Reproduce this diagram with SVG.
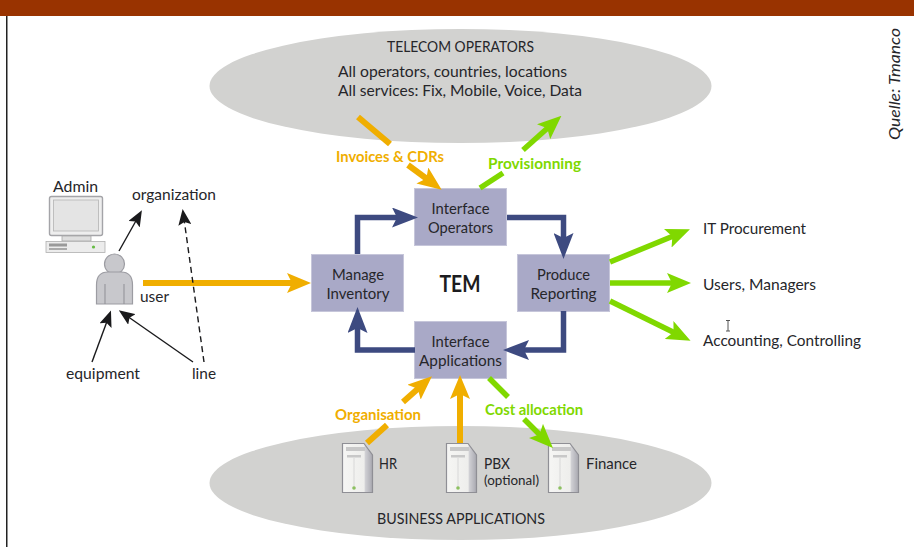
<svg xmlns="http://www.w3.org/2000/svg" xmlns:xlink="http://www.w3.org/1999/xlink" width="914" height="547" viewBox="0 0 914 547">
<style>
text{font-family:"Lato","Open Sans","Liberation Sans",sans-serif;font-size:15px;fill:#26262a}
.c{text-anchor:middle}
.o{fill:#f0ae00;font-weight:700}
.g{fill:#80d800;font-weight:700}
.box{fill:#a9a9c7;stroke:#c6c6da;stroke-width:1}
.ell{fill:#d2d2d0}
.or{stroke:#f0ae00;stroke-width:6;fill:none}
.gr{stroke:#80d800;stroke-width:5.5;fill:none}
.bl{stroke:#3d4a80;stroke-width:5.5;fill:none}
.bk{stroke:#1a1a1c;stroke-width:1.4;fill:none}
</style>
<defs>
<marker id="ho" viewBox="0 0 24 20" refX="10" refY="10" markerWidth="24" markerHeight="20" markerUnits="userSpaceOnUse" orient="auto"><path d="M0,0L24,10L0,20L5,10z" fill="#f0ae00"/></marker>
<marker id="hg" viewBox="0 0 24 20" refX="10" refY="10" markerWidth="24" markerHeight="20" markerUnits="userSpaceOnUse" orient="auto"><path d="M0,0L24,10L0,20L5,10z" fill="#80d800"/></marker>
<marker id="hb" viewBox="0 0 26 20" refX="10" refY="10" markerWidth="26" markerHeight="20" markerUnits="userSpaceOnUse" orient="auto"><path d="M0,0L26,10L0,20L5,10z" fill="#3d4a80"/></marker>
<marker id="hk" viewBox="0 0 16 13" refX="6" refY="6.5" markerWidth="16" markerHeight="13" markerUnits="userSpaceOnUse" orient="auto"><path d="M0,0L16,6.5L0,13L3,6.5z" fill="#1a1a1c"/></marker>
<linearGradient id="sv" x1="0" x2="1" y1="0" y2="0"><stop offset="0" stop-color="#f6f6f4"/><stop offset="0.72" stop-color="#eeeeec"/><stop offset="0.76" stop-color="#d0d0d4"/><stop offset="1" stop-color="#a8a8b0"/></linearGradient>
<g id="server">
<path d="M0.5,0.5H22L30.5,12V49.5H0.5z" fill="url(#sv)" stroke="#8f8f95" stroke-width="1.2"/>
<rect x="4" y="4" width="19" height="4" fill="#c8c8c8"/>
<rect x="5" y="12" width="14" height="2.500" fill="#c8c8c8"/>
<path d="M12,15V44" stroke="#d8d8d8" fill="none"/>
<circle cx="12" cy="45" r="1.800" fill="#8cc060"/>
</g>
</defs>
<rect id="header" x="0" y="0" width="914" height="16" fill="#993300"/>
<rect x="6" y="16" width="1.500" height="531" fill="#222"/>
<g id="telecom-operators">
<ellipse class="ell" cx="460.500" cy="86" rx="251" ry="57"/>
<text class="c" x="460.500" y="52" textLength="147" lengthAdjust="spacingAndGlyphs">TELECOM OPERATORS</text>
<text x="338" y="77" textLength="229" lengthAdjust="spacingAndGlyphs">All operators, countries, locations</text>
<text x="338" y="96" textLength="244" lengthAdjust="spacingAndGlyphs">All services: Fix, Mobile, Voice, Data</text>
</g>
<g id="business-applications">
<ellipse class="ell" cx="460.500" cy="483" rx="251" ry="57"/>
<text class="c" x="461" y="524" textLength="168" lengthAdjust="spacingAndGlyphs">BUSINESS APPLICATIONS</text>
</g>
<g id="hr"><use xlink:href="#server" x="342" y="443"/><text x="379" y="469" textLength="18" lengthAdjust="spacingAndGlyphs">HR</text></g>
<g id="pbx"><use xlink:href="#server" x="446" y="443"/><text x="484" y="469" textLength="26" lengthAdjust="spacingAndGlyphs">PBX</text><text x="484" y="485" style="font-size:13px" textLength="55" lengthAdjust="spacingAndGlyphs">(optional)</text></g>
<g id="finance"><use xlink:href="#server" x="548" y="443"/><text x="586" y="469" textLength="51" lengthAdjust="spacingAndGlyphs">Finance</text></g>
<g id="admin">
<text x="53" y="192" textLength="45" lengthAdjust="spacingAndGlyphs">Admin</text>
<rect x="49.500" y="196.500" width="53" height="39" rx="2" fill="#eeeeee" stroke="#a4a4a8" stroke-width="1.400"/>
<rect x="53.500" y="200" width="45" height="31" fill="#e4e4e4" stroke="#b4b4b4" stroke-width="0.800"/>
<rect x="62" y="236" width="29" height="5" fill="#dedede" stroke="#a8a8a8" stroke-width="0.800"/>
<rect x="46" y="241.500" width="59" height="11" fill="#ececec" stroke="#b0b0b0" stroke-width="0.800"/>
<rect x="49" y="243.500" width="18" height="3" fill="#9a9a9a"/>
<rect x="49" y="248" width="18" height="2" fill="#aaaaaa"/>
<circle cx="93.500" cy="247" r="1.600" fill="#66bb44"/>
</g>
<g id="user">
<circle cx="114.500" cy="264" r="10" fill="#c8c8cc" stroke="#9c9ca2" stroke-width="1.200"/>
<path d="M96.500,304V285Q96.500,272 108,272H121Q132.500,272 132.500,285V304z" fill="#c8c8cc" stroke="#9c9ca2" stroke-width="1.200"/>
<path d="M105,284V304M124,284V304" stroke="#8f8f95" fill="none"/>
<text x="140" y="302" textLength="29" lengthAdjust="spacingAndGlyphs">user</text>
</g>
<g id="organization"><text x="132" y="200" textLength="84" lengthAdjust="spacingAndGlyphs">organization</text></g>
<g id="equipment"><text x="66" y="379" textLength="74" lengthAdjust="spacingAndGlyphs">equipment</text></g>
<g id="line"><text x="192" y="379" textLength="24" lengthAdjust="spacingAndGlyphs">line</text></g>
<g id="interface-operators"><rect class="box" x="414.500" y="188.500" width="92" height="57"/><text class="c" x="460.500" y="214" textLength="58" lengthAdjust="spacingAndGlyphs">Interface</text><text class="c" x="460.500" y="233" textLength="65" lengthAdjust="spacingAndGlyphs">Operators</text></g>
<g id="manage-inventory"><rect class="box" x="311.500" y="254.500" width="92" height="57"/><text class="c" x="358" y="280" textLength="52" lengthAdjust="spacingAndGlyphs">Manage</text><text class="c" x="358" y="299" textLength="63" lengthAdjust="spacingAndGlyphs">Inventory</text></g>
<g id="produce-reporting"><rect class="box" x="517.500" y="254.500" width="92" height="57"/><text class="c" x="563.500" y="280" textLength="53" lengthAdjust="spacingAndGlyphs">Produce</text><text class="c" x="563.500" y="299" textLength="66" lengthAdjust="spacingAndGlyphs">Reporting</text></g>
<g id="interface-applications"><rect class="box" x="414.500" y="321.500" width="92" height="57"/><text class="c" x="460.500" y="347" textLength="58" lengthAdjust="spacingAndGlyphs">Interface</text><text class="c" x="460.500" y="366" textLength="83" lengthAdjust="spacingAndGlyphs">Applications</text></g>
<g id="tem"><text class="c" x="460" y="292" style="font-size:23px;font-weight:700;fill:#1c1c20" textLength="41" lengthAdjust="spacingAndGlyphs">TEM</text></g>
<g id="connectors">
<path class="bl" d="M357.500,254V217.500H402" marker-end="url(#hb)"/>
<path class="bl" d="M507,217.500H563.500V243" marker-end="url(#hb)"/>
<path class="bl" d="M563.500,311V350H519" marker-end="url(#hb)"/>
<path class="bl" d="M415,350H357.500V323" marker-end="url(#hb)"/>
<path class="or" d="M143,283H297" marker-end="url(#ho)"/>
<path class="or" d="M358,117L390,144"/>
<path class="or" d="M408,165L430.400,181.500" marker-end="url(#ho)"/>
<path class="gr" d="M480,188L503,173"/>
<path class="gr" d="M523,150L551,125" marker-end="url(#hg)"/>
<path class="or" d="M367,443L387,425"/>
<path class="or" d="M403,402L421.500,385.500" marker-end="url(#ho)"/>
<path class="or" d="M460,443V389" marker-end="url(#ho)"/>
<path class="gr" d="M489,378L508,397"/>
<path class="gr" d="M524,419L543,438" marker-end="url(#hg)"/>
<path class="gr" d="M610,262L677,234.500" marker-end="url(#hg)"/>
<path class="gr" d="M610,283H677" marker-end="url(#hg)"/>
<path class="gr" d="M610,301L678,334.500" marker-end="url(#hg)"/>
<path class="bk" d="M119,251L137,219" marker-end="url(#hk)"/>
<path class="bk" d="M204,362L184,219" stroke-dasharray="6 4" marker-end="url(#hk)"/>
<path class="bk" d="M92,362L107.500,320" marker-end="url(#hk)"/>
<path class="bk" d="M193,362L127,316" marker-end="url(#hk)"/>
</g>
<g id="labels">
<text class="o" x="336" y="162" textLength="108" lengthAdjust="spacingAndGlyphs">Invoices &amp; CDRs</text>
<text class="g" x="488" y="169" textLength="93" lengthAdjust="spacingAndGlyphs">Provisionning</text>
<text class="o" x="335" y="420" textLength="86" lengthAdjust="spacingAndGlyphs">Organisation</text>
<text class="g" x="485" y="415" textLength="98" lengthAdjust="spacingAndGlyphs">Cost allocation</text>
<text x="703" y="234" textLength="103" lengthAdjust="spacingAndGlyphs">IT Procurement</text>
<text x="703" y="290" textLength="113" lengthAdjust="spacingAndGlyphs">Users, Managers</text>
<text x="703" y="346" textLength="158" lengthAdjust="spacingAndGlyphs">Accounting, Controlling</text>
<text transform="translate(900,140) rotate(-90)" style="font-style:italic;font-size:16px" textLength="112" lengthAdjust="spacingAndGlyphs">Quelle: Tmanco</text>
</g>
<path id="cursor" d="M726,320.500H730M728,320.500V331M726,331H730" stroke="#555" fill="none"/>
</svg>
